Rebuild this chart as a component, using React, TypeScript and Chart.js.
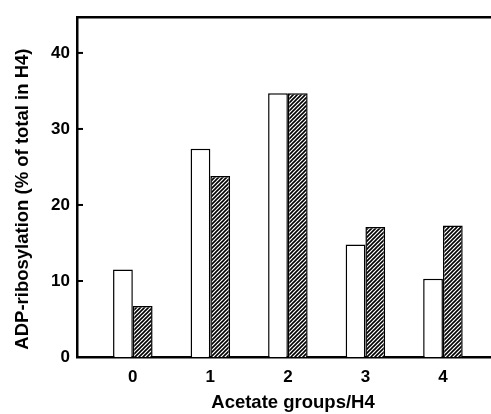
import React, { useEffect, useRef } from "react";
import { Chart, registerables } from "chart.js";

Chart.register(...registerables);

const categories = [0, 1, 2, 3, 4];
const openBars = [11.5, 27.4, 34.7, 14.8, 10.3];
const hatchedBars = [6.7, 23.8, 34.7, 17.1, 17.3];
const yTicks = [0, 10, 20, 30, 40];
const xTitle = "Acetate groups/H4";
const yTitle = "ADP-ribosylation (% of total in H4)";

const FONT = "'Liberation Sans', Arial, Helvetica, sans-serif";

function makeHatch(): CanvasPattern | string {
  const c = document.createElement("canvas");
  c.width = 4;
  c.height = 4;
  const ctx = c.getContext("2d");
  if (!ctx) return "#888";
  ctx.fillStyle = "#ffffff";
  ctx.fillRect(0, 0, 4, 4);
  ctx.strokeStyle = "#000000";
  ctx.lineWidth = 1.6;
  ctx.beginPath();
  ctx.moveTo(0, 4);
  ctx.lineTo(4, 0);
  ctx.moveTo(-1, 1);
  ctx.lineTo(1, -1);
  ctx.moveTo(3, 5);
  ctx.lineTo(5, 3);
  ctx.stroke();
  return ctx.createPattern(c, "repeat") || "#888";
}

const innerTicks = {
  id: "innerTicks",
  afterDatasetsDraw(chart: any) {
    const y = chart.scales.y;
    const ctx = chart.ctx;
    const { left, top, bottom, right } = chart.chartArea;
    ctx.save();
    ctx.strokeStyle = "#000";
    ctx.lineWidth = 2;
    yTicks.forEach((v) => {
      if (v === 0) return;
      const py = y.getPixelForValue(v);
      ctx.beginPath();
      ctx.moveTo(left, py);
      ctx.lineTo(left + 6, py);
      ctx.stroke();
    });
    // axis titles
    ctx.fillStyle = "#000";
    ctx.font = "bold 18.5px " + FONT;
    ctx.textAlign = "center";
    ctx.textBaseline = "middle";
    ctx.fillText(xTitle, (left + right) / 2 + 9, bottom + 46);
    ctx.translate(left - 54, (top + bottom) / 2 + 12);
    ctx.rotate(-Math.PI / 2);
    ctx.fillText(yTitle, 0, 0);
    ctx.restore();
  },
};

export default function App() {
  const ref = useRef<HTMLCanvasElement | null>(null);

  useEffect(() => {
    document.body.style.margin = "0";
    if (!ref.current) return;
    const hatch = makeHatch();
    const chart = new Chart(ref.current, {
      type: "bar",
      data: {
        datasets: [
          {
            label: "open",
            data: categories.map((c, i) => ({ x: c, y: openBars[i] })),
            backgroundColor: "#ffffff",
            borderColor: "#000000",
            borderWidth: 1.5,
            barPercentage: 1,
            categoryPercentage: 0.51,
          },
          {
            label: "hatched",
            data: categories.map((c, i) => ({ x: c, y: hatchedBars[i] })),
            backgroundColor: hatch as any,
            borderColor: "#000000",
            borderWidth: 1.5,
            barPercentage: 1,
            categoryPercentage: 0.51,
          },
        ],
      },
      options: {
        responsive: false,
        animation: false,
        layout: { padding: 0 },
        plugins: {
          legend: { display: false },
          tooltip: { enabled: false },
        },
        scales: {
          x: {
            type: "linear",
            position: "bottom",
            offset: false,
            min: -0.72,
            max: 4.62,
            afterBuildTicks: (scale: any) => {
              scale.ticks = categories.map((c) => ({ value: c }));
            },
            afterFit: (scale: any) => {
              scale.height = 57;
            },
            grid: { display: false, drawTicks: false },
            border: { display: true, color: "#000", width: 2.5 },
            ticks: {
              color: "#000",
              font: { family: FONT, size: 17, weight: "bold" },
              padding: 10,
              callback: (v: any) => String(v),
            },
          },
          xTop: {
            type: "linear",
            position: "top",
            offset: false,
            min: -0.72,
            max: 4.62,
            afterFit: (scale: any) => {
              scale.height = 14;
            },
            grid: { display: false, drawTicks: false },
            border: { display: true, color: "#000", width: 2.5 },
            ticks: { display: false },
          },
          y: {
            type: "linear",
            min: 0,
            max: 44.7,
            afterBuildTicks: (scale: any) => {
              scale.ticks = yTicks.map((v) => ({ value: v }));
            },
            afterFit: (scale: any) => {
              scale.width = 77;
            },
            grid: { display: false, drawTicks: false },
            border: { display: true, color: "#000", width: 2.5 },
            ticks: {
              color: "#000",
              font: { family: FONT, size: 17, weight: "bold" },
              padding: 7,
            },
          },
        },
      },
      plugins: [innerTicks],
    });
    return () => chart.destroy();
  }, []);

  return (
    <div style={{ width: 491, height: 414, background: "#fff" }}>
      <canvas ref={ref} width={491} height={414} />
    </div>
  );
}
